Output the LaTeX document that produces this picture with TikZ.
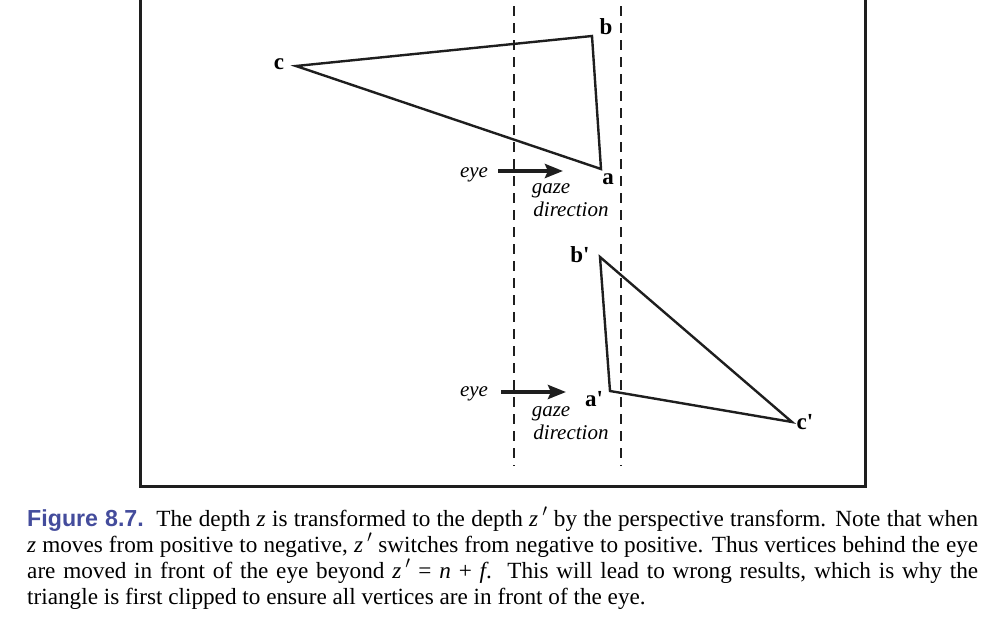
\documentclass[tikz,border=0pt]{standalone}
\usepackage{fontspec}
\setmainfont{Liberation Serif}
\setsansfont{Liberation Sans}
\usepackage{tikz}
\usetikzlibrary{arrows.meta,positioning,calc}
\usepackage{xcolor}
\definecolor{ink}{HTML}{1E1E1E}
\definecolor{capblue}{HTML}{444C9C}
\newcommand{\zprime}{\textit{z}\smash{$\,'$}}

\begin{document}
\begin{tikzpicture}[x=1pt, y=-1pt, >={Stealth[length=18pt,width=14pt,inset=3pt]},
  vlabel/.style={font=\fontsize{23}{27}\selectfont\bfseries, inner sep=0pt},
  note/.style={font=\fontsize{21}{25}\selectfont\itshape, inner sep=0pt},
  edge/.style={line width=2.4pt, ink, line join=miter},
  axis/.style={line width=1.4pt, ink, dash pattern=on 10pt off 7pt}]
\useasboundingbox (0,0) rectangle (986,624);
% frame, top edge lies outside the picture
\draw[line width=3pt, ink] (140,0) -- (140,486) -- (865,486) -- (865,0);
% near and far planes
\coordinate (n1) at (514,6);   \coordinate (n2) at (514,466);
\coordinate (f1) at (621,6);   \coordinate (f2) at (621,466);
\draw[axis] (n1) -- (n2);
\draw[axis] (f1) -- (f2);
% triangle before the transform
\coordinate (a) at (601,169);
\coordinate (b) at (592,36);
\coordinate (c) at (296,66);
\draw[edge] (a) -- (b) -- (c) -- cycle;
\node[vlabel] (la) at (608,179) {a};
\node[vlabel] (lb) at (606,27) {b};
\node[vlabel] (lc) at (279,64) {c};
% triangle after the transform
\coordinate (a2) at (610,391);
\coordinate (b2) at (600,257);
\coordinate (c2) at (792,422);
\draw[edge] (a2) -- (b2) -- (c2) -- cycle;
\node[vlabel] (la2) at (594,399) {a\textquotesingle};
\node[vlabel] (lb2) at (580,255) {b\textquotesingle};
\node[vlabel] (lc2) at (805,422) {c\textquotesingle};
% eye and gaze
\node[note] (eye1) at (474,175) {eye};
\coordinate (e1) at ($(eye1.east)+(10,-4)$);
\coordinate (g1) at (563,171);
\draw[->, line width=4.8pt, ink] (e1) -- (g1);
\node[note] (gz1) at (551,191) {gaze};
\node[note, below=3pt of gz1, xshift=20pt] (dir1) {direction};
\node[note] (eye2) at (474,394) {eye};
\coordinate (e2) at ($(eye2.east)+(13,-2)$);
\coordinate (g2) at (566,392);
\draw[->, line width=4.8pt, ink] (e2) -- (g2);
\node[note] (gz2) at (551,414) {gaze};
\node[note, below=3pt of gz2, xshift=20pt] (dir2) {direction};
% caption
\node[anchor=north west, inner sep=0pt, text width=951pt, align=justify,
  font=\fontsize{23.2}{26}\selectfont] (cap) at (27,509)
  {{\sffamily\bfseries\color{capblue}Figure 8.7.}\ \ The depth \textit{z} is transformed to the depth \zprime{} by the perspective transform. Note that when\linebreak
  \textit{z} moves from positive to negative, \zprime{} switches from negative to positive. Thus vertices behind the eye\linebreak
  are moved in front of the eye beyond \zprime{} = \textit{n} + \textit{f}.\ \ This will lead to wrong results, which is why the\linebreak
  triangle is first clipped to ensure all vertices are in front of the eye.};
\end{tikzpicture}
\end{document}
